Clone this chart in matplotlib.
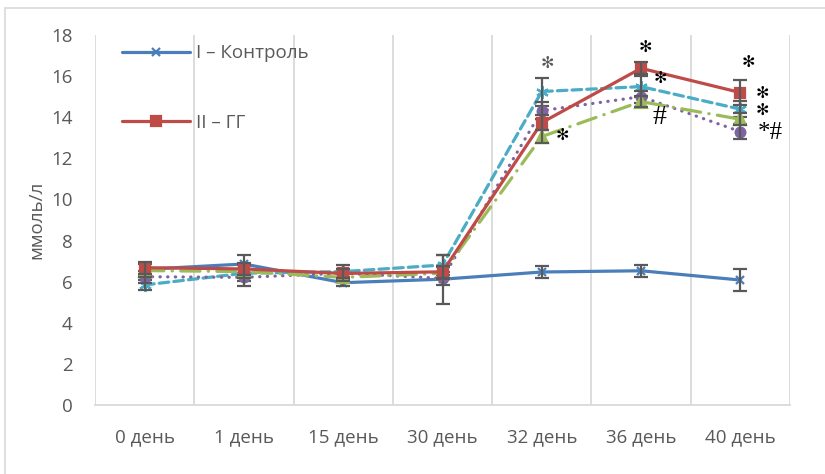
import matplotlib
matplotlib.use("Agg")
import matplotlib.pyplot as plt
from matplotlib.patches import Rectangle
import numpy as np

# Data
days = ["0 день", "1 день", "15 день", "30 день", "32 день", "36 день", "40 день"]

control = [6.60, 6.86, 5.95, 6.12, 6.47, 6.53, 6.08]
control_err = [0.30, 0.45, 0.15, 1.20, 0.27, 0.28, 0.53]

gg = [6.68, 6.62, 6.40, 6.48, 13.74, 16.38, 15.20]
gg_err = [0.30, 0.30, 0.20, 0.30, 0.35, 0.30, 0.60]

s3 = [5.84, 6.41, 6.49, 6.81, 15.25, 15.49, 14.39]
s3_err = [0.25, 0.40, 0.30, 0.50, 0.68, 0.50, 0.40]

s4 = [6.24, 6.21, 6.41, 6.16, 14.32, 15.00, 13.30]
s4_err = [0.30, 0.40, 0.20, 0.30, 0.40, 0.30, 0.35]

s5 = [6.54, 6.49, 6.21, 6.41, 13.06, 14.76, 13.90]
s5_err = [0.30, 0.30, 0.20, 0.30, 0.30, 0.25, 0.30]

legend_labels = ["I – Контроль", "II – ГГ"]
y_label = "ммоль/л"

# significance marks: (category position, y value, colour)
stars = [
    (4.06, 16.63, "#595959"),
    (4.21, 13.13, "black"),
    (5.04, 17.41, "black"),
    (5.19, 15.90, "black"),
    (6.08, 16.68, "black"),
    (6.22, 15.17, "black"),
    (6.22, 14.32, "black"),
]
hashes = [
    ("#", 5.19, 14.00, 20),
    ("*#", 6.30, 13.23, 18),
]

plt.rcParams['font.family'] = ['Open Sans', 'DejaVu Sans']

W, H = 825, 474
fig = plt.figure(figsize=(W / 100, H / 100), dpi=100)
ax = fig.add_axes([95 / W, 1 - 405 / H, (790 - 95) / W, (405 - 35) / H])

# outer chart frame
fig.patches.append(Rectangle((5 / W, -0.05), 1.1, 1 - 8 / H + 0.05,
                             transform=fig.transFigure, fill=False,
                             edgecolor="#D9D9D9", linewidth=1.2))

x = np.arange(len(days))
grid_c = "#D9D9D9"
err_c = "#595959"

series = [
    (control, control_err, "#4A7EBB", "-", "x", 6, 3),
    (s3, s3_err, "#4BACC6", (0, (3, 1.6)), (6, 2, 0), 9, 4),
    (s4, s4_err, "#8064A2", (0, (0.1, 2.3)), "o", 7, 5),
    (s5, s5_err, "#9BBB59", (0, (6, 2.6, 0.1, 2.6)), "^", 9, 6),
    (gg, gg_err, "#BE4B48", "-", "s", 7, 7),
]

handles = {}
for vals, err, col, ls, mk, ms, z in series:
    ln, = ax.plot(x, vals, color=col, linestyle=ls, linewidth=2.3,
                  marker=mk, markersize=ms, markerfacecolor=col,
                  markeredgecolor=col, markeredgewidth=1.6,
                  dash_capstyle="round", solid_capstyle="round", zorder=z)
    ax.errorbar(x, vals, yerr=err, fmt="none", ecolor=err_c,
                elinewidth=1.6, capsize=5, capthick=1.6, zorder=z + 0.5)
    handles[col] = ln

ax.set_xlim(-0.5, len(days) - 0.5)
ax.set_ylim(0, 18)
ax.set_yticks(np.arange(0, 19, 2))
ax.set_xticks(x)
ax.set_xticklabels(days)

# vertical grid at category boundaries
for b in np.arange(-0.5, len(days), 1.0):
    ax.axvline(b, color=grid_c, linewidth=1.3, zorder=0)

for s in ["top", "right", "left"]:
    ax.spines[s].set_visible(False)
ax.spines["bottom"].set_color(grid_c)
ax.spines["bottom"].set_linewidth(1.3)

ax.tick_params(axis="both", length=0, labelsize=13.5, colors="#595959")
ax.tick_params(axis="x", pad=17)
ax.tick_params(axis="y", pad=16)
ax.set_ylabel(y_label, fontsize=13.5, color="#595959", labelpad=4)

for xp, yp, col in stars:
    ax.text(xp, yp, "\u273B", fontsize=11.5, color=col, ha="center",
            va="center", family="DejaVu Sans", zorder=10)
for txt, xp, yp, fs in hashes:
    ax.text(xp, yp, txt, fontsize=fs, color="black", ha="center",
            va="center", family="Liberation Serif", zorder=10)

leg = ax.legend([handles["#4A7EBB"], handles["#BE4B48"]], legend_labels,
                loc="upper left", bbox_to_anchor=(0.015, 1.02),
                frameon=False, fontsize=13.5, labelspacing=2.75,
                handlelength=3.6, handletextpad=0.35, labelcolor="#595959")

fig.savefig("out.png", dpi=100)
